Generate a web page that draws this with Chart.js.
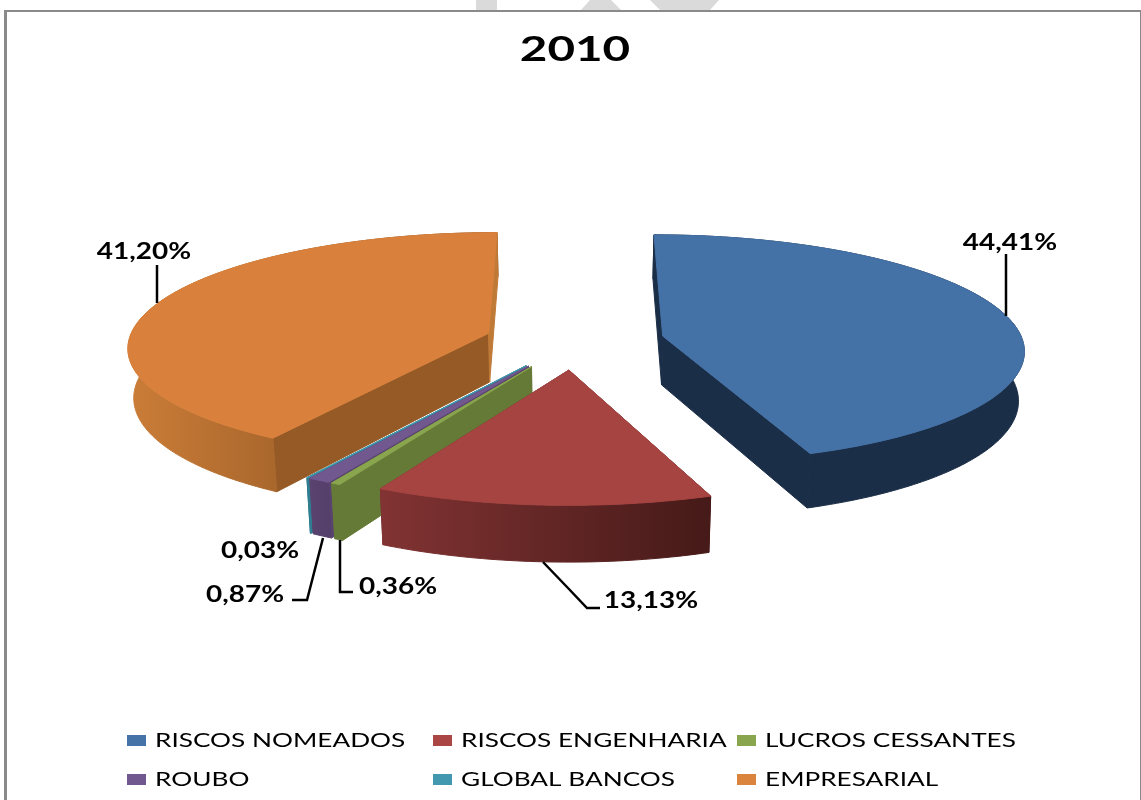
<!DOCTYPE html>
<html>
<head>
<meta charset="utf-8">
<title>2010</title>
<script src="https://cdn.jsdelivr.net/npm/chart.js@4"></script>
<style>
  html, body { margin: 0; padding: 0; background: #fff; }
  #wrap { position: relative; width: 1141px; height: 800px; overflow: hidden; }
</style>
</head>
<body>
<div id="wrap"><canvas id="pieChart" width="1141" height="800"></canvas></div>
<script>
const chartTitle = "2010";
const categories = ["RISCOS NOMEADOS", "RISCOS ENGENHARIA", "LUCROS CESSANTES", "ROUBO", "GLOBAL BANCOS", "EMPRESARIAL"];
const shares = [44.41, 13.13, 0.36, 0.87, 0.03, 41.2];

const topColors = ["#4471a6", "#a64441", "#89a54e", "#71588f", "#4198af", "#d9813c"];
const legendColors = ["#4572a7", "#aa4643", "#89a54e", "#71588f", "#4198af", "#db843d"];
// outer wall, left to right
const wallFrom = ["#1b2e47", "#823333", "#657a36", "#5a436f", "#2f7d90", "#cb7d38"];
const wallTo = ["#1b2e47", "#451a18", "#657a36", "#54406a", "#2f7d90", "#78461b"];
// flat cut faces: the one at the slice start and the one at its end
const startFace = ["#1b2e47", "#6e2a2a", "#657a36", "#5a436f", "#2f7d90", "#955a26"];
const endFace = ["#1b2e47", "#6e2a2a", "#657a36", "#5a436f", "#2f7d90", "#c07a38"];
// back to front
const drawOrder = [5, 0, 4, 3, 2, 1];

const EXPLODE = 90;
const TILT = 0.315;
const VIEW_DIST = 3270;
const DEPTH = 49;
const FLOOR_SHRINK = 0.987;

// label text spot and leader line for each slice, same order as categories
const labelAt = [
  { x: 1010, y: 243, line: [[1006, 254], [1006, 316]] },
  { x: 651, y: 601, line: [[543, 562], [567, 587], [587, 608], [600, 608]] },
  { x: 398, y: 587, line: [[340, 540], [340, 592], [353, 592]] },
  { x: 245, y: 595, line: [[323, 538], [307, 600], [292, 600]] },
  { x: 260, y: 551, line: [] },
  { x: 144, y: 252, line: [[157, 265], [157, 303]] },
];
const legendCols = [127, 433, 737];
const legendRows = [740, 779];

const percentText = (v) => v.toFixed(2).replace(".", ",") + "%";

function stretchedText(ctx, text, x, y, font, stretch, align) {
  ctx.save();
  ctx.font = font;
  ctx.fillStyle = "#000";
  ctx.textBaseline = "middle";
  ctx.textAlign = align;
  ctx.translate(x, y);
  ctx.scale(stretch, 1);
  ctx.fillText(text, 0, 0);
  ctx.restore();
}

// u to the right, v towards the viewer, both measured in the pie plane
function project(arc, u, v, low) {
  const s = 1 / (1 - v / VIEW_DIST);
  const shrink = low ? FLOOR_SHRINK : 1;
  return {
    x: arc.x + u * s * shrink,
    y: arc.y + v * TILT * s + (low ? DEPTH * s : 0),
  };
}

function fillPath(ctx, pts, color) {
  ctx.beginPath();
  pts.forEach((p, i) => (i ? ctx.lineTo(p.x, p.y) : ctx.moveTo(p.x, p.y)));
  ctx.closePath();
  ctx.fillStyle = color;
  ctx.strokeStyle = color;
  ctx.lineWidth = 1;
  ctx.fill();
  ctx.stroke();
}

function drawSlice(ctx, arc, i) {
  const mid = (arc.startAngle + arc.endAngle) / 2;
  const ou = Math.cos(mid) * EXPLODE;
  const ov = Math.sin(mid) * EXPLODE;
  const r = arc.outerRadius;
  const steps = Math.max(2, Math.ceil((arc.endAngle - arc.startAngle) * 60));

  const rimAt = (a, low) => project(arc, ou + Math.cos(a) * r, ov + Math.sin(a) * r, low);
  const topRim = [];
  const lowRim = [];
  for (let k = 0; k <= steps; k++) {
    const a = arc.startAngle + ((arc.endAngle - arc.startAngle) * k) / steps;
    topRim.push(rimAt(a, false));
    lowRim.push(rimAt(a, true));
  }
  const apexTop = project(arc, ou, ov, false);
  const apexLow = project(arc, ou, ov, true);

  const faces = [
    { rim: steps, color: endFace[i] },
    { rim: 0, color: startFace[i] },
  ].map((f) => ({
    back: topRim[f.rim].y < apexTop.y,
    pts: [apexTop, topRim[f.rim], lowRim[f.rim], apexLow],
    color: f.color,
  }));

  // faces running to the front sit behind the rim wall, those running back sit over it
  faces.filter((f) => !f.back).forEach((f) => fillPath(ctx, f.pts, f.color));

  const xs = topRim.map((p) => p.x);
  const grad = ctx.createLinearGradient(Math.min(...xs), 0, Math.max(...xs), 0);
  grad.addColorStop(0, wallFrom[i]);
  grad.addColorStop(1, wallTo[i]);
  fillPath(ctx, topRim.concat(lowRim.slice().reverse()), grad);

  faces.filter((f) => f.back).forEach((f) => fillPath(ctx, f.pts, f.color));

  fillPath(ctx, [apexTop].concat(topRim), topColors[i]);
}

const pie3d = {
  id: "pie3d",
  beforeDraw(chart) {
    const ctx = chart.ctx;
    ctx.save();
    ctx.fillStyle = "#fff";
    ctx.fillRect(0, 0, chart.width, chart.height);
    // faded page mark showing above the frame
    ctx.fillStyle = "#dadada";
    ctx.fillRect(476, 0, 21, 10);
    ctx.beginPath();
    ctx.moveTo(581, 10); ctx.lineTo(590, 0); ctx.lineTo(611, 0); ctx.lineTo(621, 10);
    ctx.closePath(); ctx.fill();
    ctx.beginPath();
    ctx.moveTo(660, 10); ctx.lineTo(650, 0); ctx.lineTo(719, 0); ctx.lineTo(710, 10);
    ctx.closePath(); ctx.fill();
    ctx.fillStyle = "#8a8a8a";
    ctx.fillRect(4, 10, 1137, 2);
    ctx.fillRect(4, 10, 3, 790);
    ctx.fillRect(1140, 10, 1, 790);
    ctx.restore();
  },
  beforeDatasetDraw(chart, args) {
    const ctx = chart.ctx;
    const arcs = args.meta.data;
    drawOrder.forEach((i) => drawSlice(ctx, arcs[i], i));
    return false;
  },
  afterDraw(chart) {
    const ctx = chart.ctx;
    stretchedText(ctx, chartTitle, 575, 50, "bold 35px Lato", 1.36, "center");

    ctx.save();
    ctx.strokeStyle = "#000";
    ctx.lineWidth = 2.5;
    labelAt.forEach((spot, i) => {
      if (spot.line.length) {
        ctx.beginPath();
        spot.line.forEach((p, k) => (k ? ctx.lineTo(p[0], p[1]) : ctx.moveTo(p[0], p[1])));
        ctx.stroke();
      }
      stretchedText(ctx, percentText(shares[i]), spot.x, spot.y, "bold 22px Lato", 1.27, "center");
    });
    ctx.restore();

    categories.forEach((name, i) => {
      const x = legendCols[i % 3];
      const y = legendRows[Math.floor(i / 3)];
      ctx.fillStyle = legendColors[i];
      ctx.fillRect(x, y - 5, 19, 11);
      stretchedText(ctx, name, x + 28, y + 1, "20px Lato", 1.31, "left");
    });
  },
};

new Chart(document.getElementById("pieChart"), {
  type: "pie",
  plugins: [pie3d],
  data: {
    labels: categories,
    datasets: [
      {
        data: shares,
        backgroundColor: topColors,
        borderWidth: 0,
        radius: 360,
      },
    ],
  },
  options: {
    responsive: false,
    animation: false,
    layout: { padding: { left: 8, bottom: 118 } },
    plugins: {
      title: { display: false, text: chartTitle },
      legend: { display: false },
      tooltip: { enabled: false },
    },
  },
});
</script>
</body>
</html>
